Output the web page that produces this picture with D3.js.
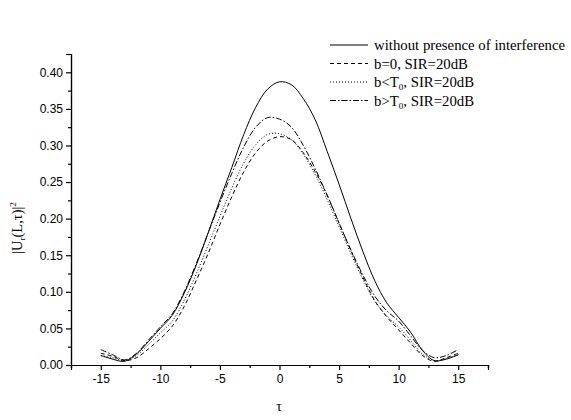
<!DOCTYPE html>
<html>
<head>
<meta charset="utf-8">
<script src="https://cdn.jsdelivr.net/npm/d3@7"></script>
<style>
  body { margin: 0; background: #fff; }
  svg { display: block; }
  .tick text { font-family: "Liberation Sans", Arial, sans-serif; font-size: 12px; fill: #000; }
  .lbl { font-family: "Liberation Serif", "Times New Roman", serif; fill: #000; }
</style>
</head>
<body>
<svg id="chart" width="571" height="420"></svg>
<script>
// tau grid and curve values
const tau = d3.range(-15, 16, 1);

const noInterf = [0.013, 0.008, 0.005, 0.015, 0.032, 0.050, 0.068, 0.098, 0.136, 0.180,
  0.226, 0.270, 0.315, 0.352, 0.377, 0.387, 0.383, 0.364, 0.335, 0.292,
  0.247, 0.200, 0.155, 0.115, 0.085, 0.065, 0.045, 0.020, 0.006, 0.008, 0.014];

const bZero = [0.016, 0.012, 0.006, 0.010, 0.022, 0.036, 0.053, 0.080, 0.115, 0.152,
  0.192, 0.230, 0.264, 0.290, 0.306, 0.312, 0.308, 0.290, 0.264, 0.232,
  0.194, 0.156, 0.120, 0.088, 0.066, 0.048, 0.030, 0.013, 0.005, 0.010, 0.016];

const bLess = [0.013, 0.010, 0.006, 0.013, 0.028, 0.044, 0.060, 0.088, 0.124, 0.163,
  0.203, 0.242, 0.276, 0.301, 0.315, 0.316, 0.308, 0.288, 0.260, 0.226,
  0.189, 0.152, 0.117, 0.087, 0.067, 0.052, 0.034, 0.015, 0.006, 0.009, 0.014];

const bGreater = [0.021, 0.014, 0.007, 0.016, 0.034, 0.052, 0.070, 0.100, 0.138, 0.180,
  0.222, 0.262, 0.298, 0.325, 0.338, 0.336, 0.325, 0.300, 0.268, 0.232,
  0.194, 0.157, 0.123, 0.094, 0.074, 0.060, 0.040, 0.020, 0.010, 0.013, 0.021];

const xTicks = [-15, -10, -5, 0, 5, 10, 15];
const yTicks = [0, 0.05, 0.10, 0.15, 0.20, 0.25, 0.30, 0.35, 0.40];

const series = [
  { name: "without presence of interference", values: noInterf, dash: null },
  { name: "b=0, SIR=20dB", values: bZero, dash: "4,3" },
  { name: "b<T0, SIR=20dB", values: bLess, dash: "1,2" },
  { name: "b>T0, SIR=20dB", values: bGreater, dash: "6,2,1.5,2" }
];

const svg = d3.select("#chart");
const x = d3.scaleLinear().domain([-17.5, 17.5]).range([71, 488]);
const y = d3.scaleLinear().domain([0, 0.425]).range([365, 54]);

// axes: major + minor ticks (plain hyphen for negatives, like the original)
const xAxis = d3.axisBottom(x).tickValues(xTicks).tickFormat(d => String(d)).tickSize(5).tickPadding(4);
const xMinor = d3.axisBottom(x).tickValues(d3.range(-17.5, 17.6, 5)).tickFormat("").tickSize(3);
const yAxis = d3.axisLeft(y).tickValues(yTicks).tickFormat(d => d.toFixed(2)).tickSize(5).tickPadding(3);
const yMinor = d3.axisLeft(y).tickValues(d3.range(0.025, 0.43, 0.05)).tickFormat("").tickSize(3);

function style(g) {
  g.select(".domain").attr("stroke", "#000").attr("stroke-width", 1.2);
  g.selectAll(".tick line").attr("stroke", "#000").attr("stroke-width", 1.2);
}

svg.append("g").attr("transform", "translate(0,365)").call(xMinor).call(style);
svg.append("g").attr("transform", "translate(0,365)").call(xAxis).call(style);
svg.append("g").attr("transform", "translate(71,0)").call(yMinor).call(style);
svg.append("g").attr("transform", "translate(71,0)").call(yAxis).call(style);

// curves
const line = d3.line()
  .x((d, i) => x(tau[i]))
  .y(d => y(d))
  .curve(d3.curveCatmullRom.alpha(0.5));

series.forEach(s => {
  svg.append("path")
    .datum(s.values)
    .attr("d", line)
    .attr("fill", "none")
    .attr("stroke", "#000")
    .attr("stroke-width", 1)
    .attr("stroke-dasharray", s.dash);
});

// legend
const legend = svg.append("g");
series.forEach((s, i) => {
  const ly = 45 + i * 18.5;
  legend.append("line")
    .attr("x1", 330).attr("x2", 368).attr("y1", ly).attr("y2", ly)
    .attr("stroke", "#000").attr("stroke-width", 1)
    .attr("stroke-dasharray", s.dash);
  const t = legend.append("text").attr("class", "lbl")
    .attr("x", 374).attr("y", ly + 5).attr("font-size", 14.8);
  if (s.name.includes("T0")) {
    const parts = s.name.split("T0");
    t.append("tspan").text(parts[0] + "T");
    t.append("tspan").attr("font-size", 9).attr("dy", 3).text("0");
    t.append("tspan").attr("dy", -3).text(parts[1]);
  } else {
    t.text(s.name);
  }
});

// axis titles
svg.append("text").attr("class", "lbl")
  .attr("x", 279).attr("y", 411).attr("text-anchor", "middle")
  .attr("font-size", 14).text("τ");

const yl = svg.append("text").attr("class", "lbl")
  .attr("transform", "translate(22,228) rotate(-90)")
  .attr("text-anchor", "middle").attr("font-size", 14.5);
yl.append("tspan").text("|U");
yl.append("tspan").attr("font-size", 9).attr("dy", 3).text("r");
yl.append("tspan").attr("dy", -3).text("(L,τ)|");
yl.append("tspan").attr("font-size", 9).attr("dy", -6).text("2");
</script>
</body>
</html>
